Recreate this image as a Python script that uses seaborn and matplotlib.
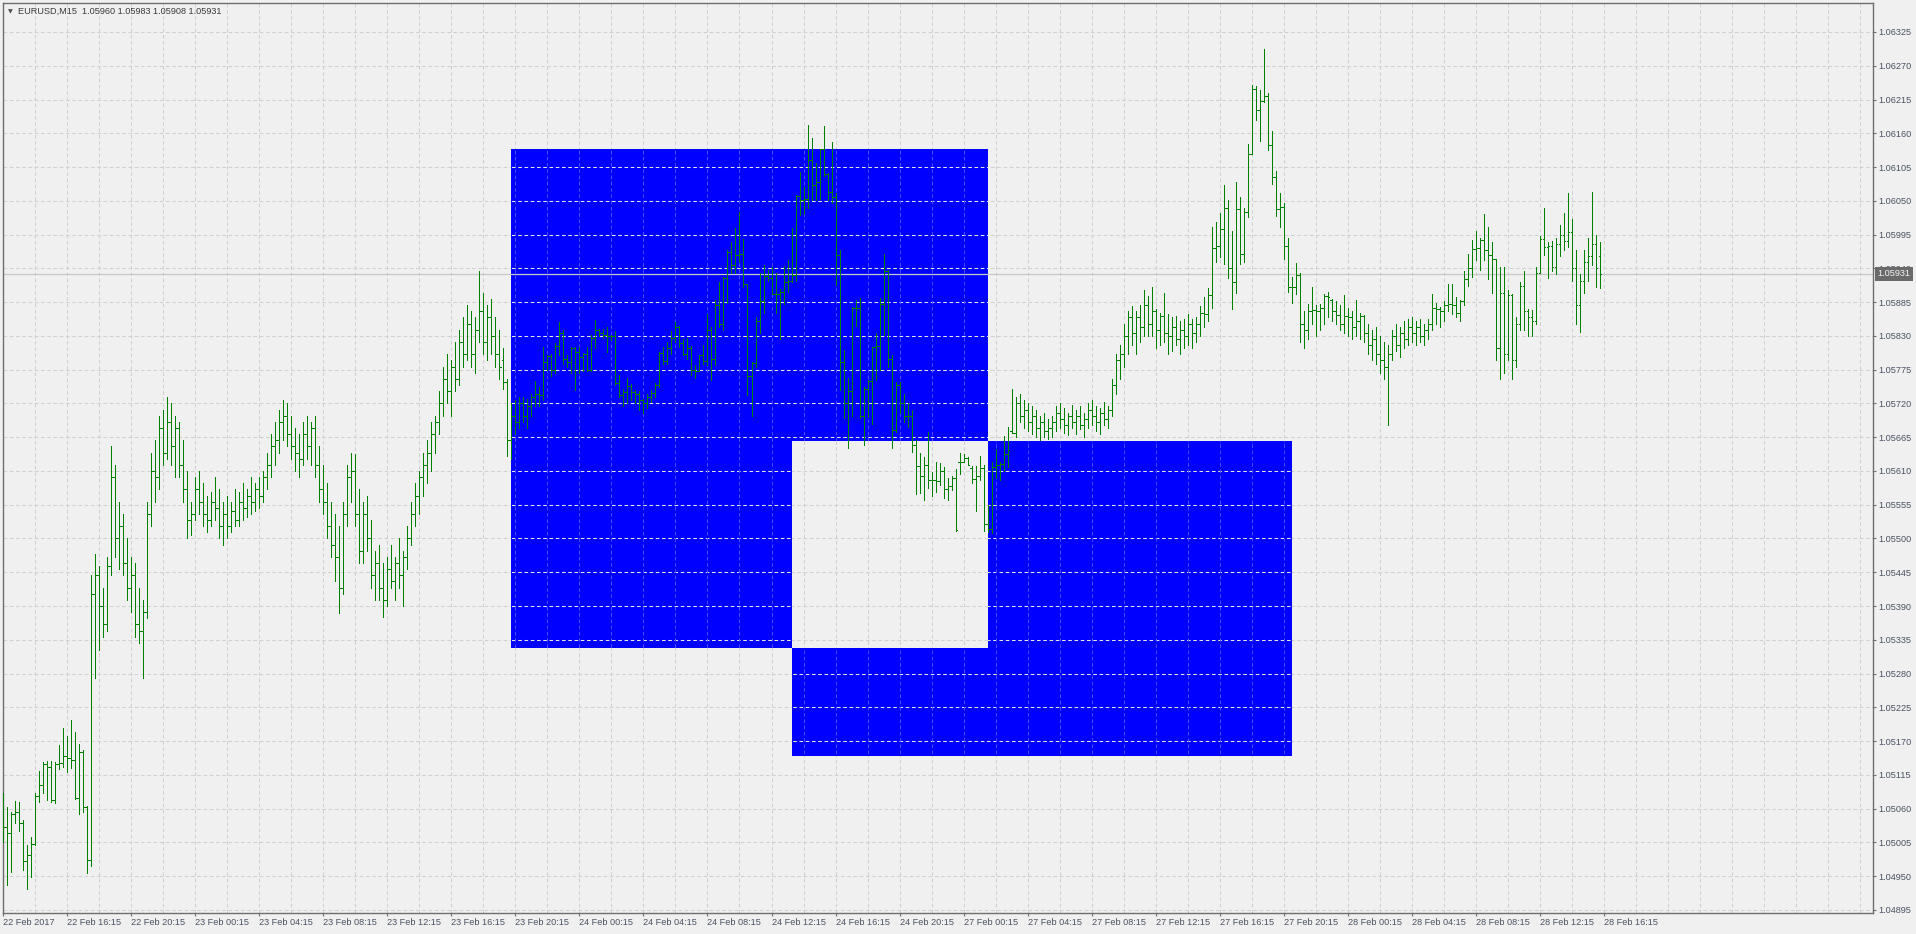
import numpy as np
import matplotlib
matplotlib.use("Agg")
import matplotlib.pyplot as plt
import seaborn as sns
from matplotlib.patches import PathPatch
from matplotlib.path import Path

# ---------------- data (prices in points: price = 1 + value / 100000) ----------------
symbol = "EURUSD,M15"

opens = [
    5047, 5030, 5020, 5052, 5055, 5037, 4975, 4984, 5003, 5081,
    5099, 5132, 5127, 5074, 5132, 5134, 5146, 5142, 5140, 5077,
    5152, 5063, 4976, 5410, 5440, 5390, 5360, 5455, 5600, 5500,
    5520, 5460, 5420, 5440, 5360, 5350, 5380, 5540, 5610, 5600,
    5680, 5640, 5690, 5650, 5680, 5620, 5580, 5530, 5540, 5580,
    5560, 5540, 5530, 5560, 5550, 5520, 5540, 5520, 5545, 5530,
    5560, 5550, 5570, 5560, 5580, 5570, 5600, 5620, 5650, 5660,
    5690, 5700, 5670, 5650, 5640, 5630, 5670, 5650, 5680, 5620,
    5580, 5560, 5520, 5490, 5470, 5420, 5540, 5600, 5610, 5540,
    5480, 5540, 5500, 5440, 5460, 5420, 5400, 5450, 5430, 5460,
    5440, 5470, 5500, 5540, 5570, 5600, 5620, 5640, 5670, 5690,
    5720, 5760, 5740, 5780, 5760, 5820, 5800, 5850, 5800, 5840,
    5870, 5820, 5860, 5830, 5800, 5790, 5755, 5660, 5700, 5690,
    5720, 5700, 5715, 5730, 5735, 5734, 5788, 5798, 5774, 5814,
    5834, 5792, 5788, 5810, 5804, 5796, 5800, 5774, 5826, 5840,
    5834, 5832, 5830, 5830, 5753, 5734, 5738, 5748, 5739, 5736,
    5725, 5720, 5730, 5737, 5750, 5802, 5789, 5810, 5826, 5845,
    5818, 5801, 5810, 5774, 5773, 5799, 5789, 5840, 5792, 5880,
    5850, 5925, 5967, 5946, 5962, 5963, 5914, 5764, 5786, 5855,
    5887, 5927, 5924, 5899, 5898, 5902, 5918, 5919, 5929, 6058,
    6051, 6053, 6116, 6076, 6080, 6135, 6093, 6065, 6057, 5962,
    5788, 5720, 5740, 5876, 5875, 5700, 5744, 5757, 5812, 5814,
    5882, 5936, 5793, 5676, 5750, 5720, 5700, 5700, 5653, 5618,
    5602, 5619, 5595, 5596, 5594, 5610, 5580, 5585, 5599, 5624,
    5624, 5631, 5615, 5597, 5602, 5614, 5523, 5516, 5617, 5619,
    5622, 5638, 5675, 5672, 5720, 5700, 5710, 5690, 5700, 5680,
    5690, 5675, 5680, 5690, 5705, 5695, 5685, 5700, 5690, 5700,
    5685, 5695, 5710, 5700, 5690, 5705, 5695, 5710, 5750, 5790,
    5800, 5830, 5860, 5835, 5860, 5845, 5880, 5850, 5870, 5840,
    5862, 5835, 5830, 5845, 5825, 5840, 5830, 5850, 5835, 5850,
    5867, 5865, 5897, 5973, 5977, 6004, 6039, 5940, 5918, 6036,
    5964, 6031, 6127, 6232, 6198, 6213, 6220, 6141, 6089, 6036,
    6040, 5976, 5910, 5909, 5929, 5850, 5840, 5870, 5872, 5870,
    5876, 5895, 5889, 5870, 5864, 5850, 5862, 5860, 5845, 5855,
    5862, 5835, 5815, 5825, 5800, 5790, 5780, 5800, 5830, 5815,
    5835, 5825, 5845, 5835, 5845, 5830, 5840, 5850, 5875, 5873,
    5870, 5880, 5882, 5880, 5868, 5886, 5923, 5940, 5971, 5973,
    5986, 5970, 5962, 5956, 5810, 5900, 5800, 5897, 5790, 5850,
    5912, 5870, 5860, 5855, 5932, 5988, 5974, 5977, 5943, 5980,
    5995, 5985, 6000, 5940, 5880, 5920, 5950, 5960, 5980, 5960,
]

highs = [
    5085, 5063, 5054, 5073, 5070, 5042, 5001, 5013, 5085, 5121,
    5136, 5137, 5138, 5136, 5164, 5191, 5178, 5205, 5185, 5166,
    5156, 5064, 5440, 5475, 5455, 5420, 5470, 5650, 5620, 5560,
    5540, 5500, 5470, 5460, 5420, 5400, 5560, 5640, 5660, 5700,
    5710, 5730, 5720, 5700, 5690, 5660, 5610, 5560, 5600, 5610,
    5590, 5570, 5575, 5600, 5580, 5560, 5570, 5560, 5580, 5575,
    5590, 5580, 5600, 5590, 5600, 5610, 5640, 5670, 5690, 5710,
    5726, 5720, 5700, 5680, 5670, 5690, 5700, 5690, 5700, 5650,
    5620, 5590, 5560, 5540, 5520, 5560, 5620, 5640, 5637, 5580,
    5560, 5570, 5530, 5480, 5490, 5460, 5470, 5490, 5470, 5500,
    5480, 5520, 5560, 5590, 5610, 5640, 5660, 5690, 5700, 5740,
    5780, 5800, 5790, 5820, 5840, 5860, 5880, 5870, 5860, 5935,
    5900, 5880, 5890, 5860, 5840, 5810, 5759, 5720, 5725, 5731,
    5730, 5728, 5736, 5756, 5747, 5812, 5799, 5801, 5819, 5853,
    5839, 5799, 5812, 5812, 5812, 5802, 5812, 5831, 5856, 5842,
    5841, 5845, 5831, 5838, 5766, 5744, 5761, 5752, 5742, 5740,
    5728, 5735, 5742, 5753, 5804, 5812, 5820, 5838, 5852, 5846,
    5825, 5826, 5813, 5782, 5799, 5815, 5865, 5845, 5889, 5918,
    5926, 5970, 5983, 6005, 6032, 5988, 5915, 5788, 5861, 5932,
    5946, 5937, 5943, 5932, 5907, 5944, 5953, 6006, 6059, 6097,
    6072, 6173, 6153, 6111, 6135, 6172, 6095, 6145, 6062, 5970,
    5807, 5761, 5877, 5888, 5891, 5747, 5758, 5812, 5834, 5891,
    5963, 5937, 5799, 5755, 5755, 5735, 5720, 5709, 5661, 5640,
    5633, 5674, 5609, 5625, 5623, 5617, 5599, 5602, 5613, 5639,
    5638, 5632, 5618, 5618, 5634, 5619, 5555, 5625, 5645, 5625,
    5667, 5682, 5744, 5730, 5735, 5725, 5720, 5715, 5710, 5700,
    5705, 5695, 5700, 5715, 5720, 5712, 5705, 5718, 5710, 5715,
    5705, 5720, 5725, 5715, 5712, 5722, 5715, 5760, 5800, 5815,
    5850, 5870, 5878, 5870, 5880, 5905, 5895, 5910, 5874, 5868,
    5900, 5865, 5860, 5862, 5855, 5858, 5865, 5857, 5860, 5879,
    5894, 5908, 6008, 6016, 6030, 6075, 6051, 6001, 6080, 6057,
    6038, 6142, 6239, 6237, 6230, 6297, 6226, 6164, 6099, 6063,
    6047, 5989, 5926, 5948, 5932, 5870, 5882, 5910, 5880, 5882,
    5898, 5902, 5890, 5886, 5880, 5897, 5875, 5870, 5888, 5868,
    5864, 5850, 5840, 5845, 5830, 5820, 5815, 5840, 5850, 5845,
    5855, 5858, 5860, 5855, 5857, 5850, 5857, 5898, 5883, 5877,
    5887, 5914, 5914, 5894, 5889, 5936, 5964, 5986, 6001, 5989,
    6029, 6007, 5983, 5956, 5943, 5943, 5905, 5899, 5860, 5918,
    5936, 5874, 5872, 5943, 5992, 6039, 5983, 5985, 5990, 6010,
    6030, 6063, 6020, 5970, 5930, 5970, 5990, 6064, 5995, 5983,
]

lows = [
    5006, 4935, 4957, 5036, 5024, 4960, 4929, 4949, 5000, 5070,
    5085, 5074, 5070, 5069, 5124, 5127, 5120, 5126, 5075, 5052,
    5055, 4955, 4966, 5273, 5318, 5340, 5350, 5440, 5470, 5450,
    5440, 5400, 5380, 5340, 5330, 5273, 5370, 5520, 5560, 5580,
    5620, 5630, 5620, 5600, 5600, 5560, 5500, 5505, 5530, 5540,
    5520, 5510, 5520, 5530, 5500, 5490, 5500, 5510, 5520, 5520,
    5530, 5535, 5540, 5545, 5550, 5560, 5580, 5600, 5620, 5640,
    5660, 5650, 5630, 5610, 5600, 5620, 5630, 5620, 5600, 5560,
    5540, 5500, 5470, 5430, 5378, 5410, 5520, 5560, 5520, 5460,
    5460, 5480, 5420, 5400, 5400, 5372, 5390, 5420, 5400, 5420,
    5390, 5450, 5490, 5520, 5540, 5570, 5590, 5610, 5640, 5670,
    5700, 5720, 5700, 5740, 5750, 5780, 5790, 5780, 5770, 5820,
    5800, 5790, 5800, 5780, 5760, 5744, 5635, 5630, 5670, 5680,
    5690, 5680, 5700, 5715, 5715, 5725, 5774, 5765, 5770, 5799,
    5785, 5780, 5769, 5742, 5769, 5772, 5772, 5772, 5810, 5830,
    5826, 5804, 5823, 5750, 5731, 5715, 5720, 5725, 5720, 5710,
    5705, 5712, 5722, 5730, 5747, 5784, 5785, 5801, 5820, 5812,
    5799, 5793, 5766, 5761, 5772, 5785, 5782, 5758, 5782, 5845,
    5839, 5883, 5932, 5932, 5951, 5910, 5734, 5700, 5780, 5834,
    5867, 5920, 5899, 5868, 5825, 5882, 5902, 5917, 5920, 6027,
    6028, 6039, 6051, 6051, 6053, 6090, 6051, 6047, 5913, 5742,
    5697, 5648, 5700, 5846, 5697, 5653, 5698, 5686, 5758, 5774,
    5831, 5780, 5647, 5673, 5705, 5690, 5681, 5641, 5573, 5574,
    5563, 5583, 5569, 5576, 5587, 5566, 5563, 5579, 5512, 5605,
    5624, 5619, 5590, 5545, 5595, 5512, 5510, 5509, 5598, 5595,
    5610, 5617, 5671, 5665, 5690, 5680, 5675, 5670, 5665, 5660,
    5665, 5662, 5665, 5675, 5680, 5672, 5668, 5680, 5670, 5678,
    5665, 5680, 5685, 5675, 5670, 5685, 5680, 5700, 5735, 5760,
    5780, 5800, 5815, 5800, 5820, 5830, 5830, 5830, 5810, 5815,
    5820, 5800, 5805, 5815, 5800, 5810, 5815, 5810, 5820, 5830,
    5845, 5855, 5876, 5951, 5959, 5947, 5925, 5873, 5900, 5947,
    5951, 6023, 6127, 6181, 6148, 6211, 6132, 6078, 6026, 6007,
    5956, 5902, 5883, 5898, 5820, 5810, 5825, 5850, 5830, 5840,
    5850, 5860, 5855, 5850, 5840, 5835, 5830, 5825, 5830, 5825,
    5820, 5800, 5790, 5785, 5770, 5760, 5685, 5790, 5805, 5795,
    5810, 5815, 5820, 5815, 5820, 5815, 5825, 5840, 5850, 5845,
    5855, 5870, 5866, 5860, 5855, 5880, 5912, 5926, 5954, 5938,
    5954, 5922, 5900, 5790, 5760, 5770, 5790, 5760, 5780, 5840,
    5840, 5830, 5830, 5850, 5932, 5962, 5924, 5935, 5930, 5960,
    5970, 5975, 5920, 5850, 5836, 5900, 5920, 5945, 5910, 5908,
]

closes = [
    5030, 5020, 5052, 5055, 5037, 4975, 4984, 5003, 5081, 5099,
    5132, 5127, 5074, 5132, 5134, 5146, 5142, 5140, 5077, 5152,
    5063, 4976, 5410, 5440, 5390, 5360, 5455, 5600, 5500, 5520,
    5460, 5420, 5440, 5360, 5350, 5380, 5540, 5610, 5600, 5680,
    5640, 5690, 5650, 5680, 5620, 5580, 5530, 5540, 5580, 5560,
    5540, 5530, 5560, 5550, 5520, 5540, 5520, 5545, 5530, 5560,
    5550, 5570, 5560, 5580, 5570, 5600, 5620, 5650, 5660, 5690,
    5700, 5670, 5650, 5640, 5630, 5670, 5650, 5680, 5620, 5580,
    5560, 5520, 5490, 5470, 5420, 5540, 5600, 5610, 5540, 5480,
    5540, 5500, 5440, 5460, 5420, 5400, 5450, 5430, 5460, 5440,
    5470, 5500, 5540, 5570, 5600, 5620, 5640, 5670, 5690, 5720,
    5760, 5740, 5780, 5760, 5820, 5800, 5850, 5800, 5840, 5870,
    5820, 5860, 5830, 5800, 5780, 5755, 5660, 5700, 5690, 5720,
    5700, 5715, 5730, 5735, 5734, 5788, 5798, 5774, 5814, 5834,
    5792, 5788, 5810, 5804, 5796, 5800, 5774, 5826, 5840, 5834,
    5832, 5830, 5830, 5753, 5734, 5738, 5748, 5739, 5736, 5725,
    5720, 5730, 5737, 5750, 5802, 5789, 5810, 5826, 5845, 5818,
    5801, 5810, 5774, 5773, 5799, 5789, 5840, 5792, 5880, 5850,
    5925, 5967, 5946, 5962, 5963, 5914, 5764, 5786, 5855, 5887,
    5927, 5924, 5899, 5898, 5902, 5918, 5919, 5929, 6058, 6051,
    6053, 6116, 6076, 6080, 6135, 6093, 6065, 6057, 5962, 5788,
    5720, 5740, 5876, 5875, 5700, 5744, 5757, 5812, 5814, 5882,
    5936, 5793, 5676, 5750, 5720, 5700, 5700, 5653, 5618, 5602,
    5619, 5595, 5596, 5594, 5610, 5580, 5585, 5599, 5514, 5624,
    5631, 5619, 5597, 5602, 5614, 5523, 5516, 5617, 5619, 5622,
    5638, 5644, 5672, 5720, 5700, 5710, 5690, 5700, 5680, 5690,
    5675, 5680, 5690, 5705, 5695, 5685, 5700, 5690, 5700, 5685,
    5695, 5710, 5700, 5690, 5705, 5695, 5710, 5750, 5790, 5800,
    5830, 5860, 5835, 5860, 5845, 5880, 5850, 5870, 5840, 5862,
    5835, 5830, 5845, 5825, 5840, 5830, 5850, 5835, 5850, 5867,
    5865, 5897, 5973, 5977, 6004, 6039, 5940, 5918, 6036, 5964,
    6031, 6127, 6232, 6198, 6213, 6220, 6141, 6089, 6036, 6040,
    5976, 5910, 5909, 5929, 5850, 5840, 5870, 5872, 5870, 5876,
    5895, 5893, 5870, 5864, 5850, 5862, 5860, 5845, 5855, 5862,
    5835, 5815, 5825, 5800, 5790, 5780, 5800, 5830, 5815, 5835,
    5825, 5845, 5835, 5845, 5830, 5840, 5850, 5875, 5873, 5870,
    5880, 5882, 5880, 5868, 5886, 5923, 5940, 5971, 5973, 5986,
    5970, 5962, 5956, 5810, 5900, 5800, 5897, 5790, 5850, 5912,
    5870, 5860, 5855, 5932, 5988, 5974, 5977, 5943, 5980, 5995,
    5985, 6000, 5940, 5880, 5920, 5950, 5960, 5980, 5940, 5931,
]

price_labels = [
    "1.04895", "1.04950", "1.05005", "1.05060", "1.05115", "1.05170", "1.05225",
    "1.05280", "1.05335", "1.05390", "1.05445", "1.05500", "1.05555", "1.05610",
    "1.05665", "1.05720", "1.05775", "1.05830", "1.05885", "1.05940", "1.05995",
    "1.06050", "1.06105", "1.06160", "1.06215", "1.06270", "1.06325",
]

time_labels = [
    "22 Feb 2017", "22 Feb 16:15", "22 Feb 20:15", "23 Feb 00:15", "23 Feb 04:15",
    "23 Feb 08:15", "23 Feb 12:15", "23 Feb 16:15", "23 Feb 20:15", "24 Feb 00:15",
    "24 Feb 04:15", "24 Feb 08:15", "24 Feb 12:15", "24 Feb 16:15", "24 Feb 20:15",
    "27 Feb 00:15", "27 Feb 04:15", "27 Feb 08:15", "27 Feb 12:15", "27 Feb 16:15",
    "27 Feb 20:15", "28 Feb 00:15", "28 Feb 04:15", "28 Feb 08:15", "28 Feb 12:15",
    "28 Feb 16:15",
]
time_label_bars = [16 * k for k in range(len(time_labels))]

# rectangle objects: [start bar, end bar], [top price, bottom price]
rect1_bars = [127, 246]
rect1_prices = [1.06134, 1.05322]
rect2_bars = [197, 322]
rect2_prices = [1.05659, 1.05146]

# ---------------- style ----------------
BG = "#f0f0f0"
GRID = "#d0d0d0"
GREEN = "#008000"
TXT = "#4a5262"
SPINE = "#6e6e6e"

sns.set_theme(style="ticks", rc={"axes.facecolor": BG, "figure.facecolor": BG,
                                 "savefig.facecolor": BG})
plt.rcParams["font.family"] = ["Liberation Sans", "DejaVu Sans"]
plt.rcParams["font.size"] = 6.6

W, H, DPI = 1916, 934, 100
fig = plt.figure(figsize=(W / DPI, H / DPI), dpi=DPI)
ax = fig.add_axes([2.5 / W, (H - 913) / H, (1873 - 2.5) / W, (913 - 2.5) / H])

o = 1 + np.array(opens) / 1e5
h = 1 + np.array(highs) / 1e5
l = 1 + np.array(lows) / 1e5
c = 1 + np.array(closes) / 1e5
x = np.arange(len(c))

tick_vals = [float(s) for s in price_labels]
grid_bars = list(range(8, 468, 8))

ax.set_xlim(-0.2, 467.3)
ax.set_ylim(1.04890, 1.06373)

# grid (below everything)
ax.set_axisbelow(True)
dash = (0, (3.5, 2.5))
ax.set_yticks(tick_vals)
ax.set_yticklabels(price_labels)
ax.set_xticks(time_label_bars)
ax.set_xticklabels(time_labels)
ax.set_xticks(grid_bars, minor=True)
ax.grid(True, which="both", axis="x", color=GRID, linestyle=dash, linewidth=0.75)
ax.grid(True, which="major", axis="y", color=GRID, linestyle=dash, linewidth=0.75)

# rectangles drawn as XOR (overlap left open)
a1, b1 = rect1_bars
a2, b2 = rect2_bars
d1, c1 = rect1_prices
d2, c2 = rect2_prices
poly1 = [(a1, c1), (a2, c1), (a2, d2), (b1, d2), (b1, d1), (a1, d1), (a1, c1)]
poly2 = [(a2, c2), (b2, c2), (b2, d2), (b1, d2), (b1, c1), (a2, c1), (a2, c2)]
blue_path = Path.make_compound_path(Path(poly1, closed=True), Path(poly2, closed=True))
blue = PathPatch(blue_path, facecolor="#0000ff", edgecolor="none", zorder=0.6)
ax.add_patch(blue)

hl = ax.hlines(tick_vals, -1, 470, colors="#e4e4e4", linestyles=dash,
               linewidth=0.75, zorder=0.7)
hl.set_clip_path(blue)
vl = ax.vlines(grid_bars, 1.04, 1.07, colors="#4848ff", linestyles=dash,
               linewidth=0.75, zorder=0.7)
vl.set_clip_path(blue)

# current price line
ax.axhline(c[-1], color="#c8c8c8", linewidth=0.9, zorder=1.0)

# OHLC bars
LW = 0.72
ax.vlines(x, l, h, colors=GREEN, linewidth=LW, zorder=3, antialiased=False)
ax.hlines(o, x - 0.3, x, colors=GREEN, linewidth=LW, zorder=3, antialiased=False)
ax.hlines(c, x, x + 0.3, colors=GREEN, linewidth=LW, zorder=3, antialiased=False)

# axes cosmetics
for s in ax.spines.values():
    s.set_color(SPINE)
    s.set_linewidth(1.0)
ax.yaxis.tick_right()
ax.tick_params(axis="y", which="major", direction="out", length=2.3, width=0.8,
               color=SPINE, labelcolor=TXT, labelsize=6.6, pad=1.8)
ax.tick_params(axis="x", which="major", direction="out", length=2.3, width=0.8,
               color=SPINE, labelcolor=TXT, labelsize=6.6, pad=1.6)
ax.tick_params(axis="x", which="minor", length=0)
for lab in ax.get_xticklabels():
    lab.set_ha("left")

# current price tag on the price scale (covers the level label beneath, as in the terminal)
ax.annotate(f"{c[-1]:.5f}", xy=(1, c[-1]), xycoords=("axes fraction", "data"),
            xytext=(4.5, 0), textcoords="offset pixels", ha="left", va="center",
            fontsize=6.6, color="#f4f4f4", annotation_clip=False, zorder=10,
            bbox=dict(boxstyle="square,pad=0.25", fc="#6a6a6a", ec="none"))

# symbol header
ax.annotate("\u25BC", xy=(0, 1), xycoords="axes fraction", xytext=(5, -9),
            textcoords="offset pixels", ha="left", va="center", fontsize=4.5,
            color="#505050", family=["DejaVu Sans"])
ax.annotate(f"{symbol}  {o[-1]:.5f} {h[-1]:.5f} {l[-1]:.5f} {c[-1]:.5f}",
            xy=(0, 1), xycoords="axes fraction", xytext=(16, -9),
            textcoords="offset pixels", ha="left", va="center", fontsize=6.6,
            color="#3a3a3a")

ax.set_xlabel("")
ax.set_ylabel("")
fig.savefig("out.png", dpi=DPI, facecolor=BG)
